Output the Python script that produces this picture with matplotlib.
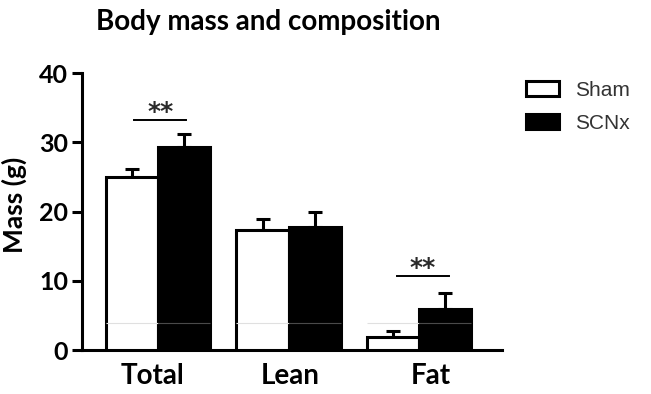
import matplotlib
matplotlib.use("Agg")
import matplotlib.pyplot as plt
import matplotlib.transforms as mtransforms
import numpy as np

categories = ["Total", "Lean", "Fat"]
sham_mean = [25.0, 17.3, 1.9]
sham_err = [1.1, 1.6, 0.85]
scnx_mean = [29.3, 17.8, 5.9]
scnx_err = [1.9, 2.1, 2.4]
yticks = [0, 10, 20, 30, 40]
# significance annotations: (category index, bar height, label)
sig_marks = [(0, 33.2, "**"), (2, 10.7, "**")]
artifact_level = 3.95

W, H = 651, 394
fig = plt.figure(figsize=(W / 100, H / 100), dpi=100)
ax = fig.add_axes([82 / W, 1 - 350 / H, (502 - 82) / W, (350 - 73.3) / H])

lw = 2.2
bar_w = 0.4
x = np.arange(len(categories))
b1 = ax.bar(x - bar_w / 2, sham_mean, bar_w, color="white", edgecolor="black",
            linewidth=lw, zorder=3, label="Sham")
b2 = ax.bar(x + bar_w / 2, scnx_mean, bar_w, color="black", edgecolor="black",
            linewidth=lw, zorder=3, label="SCNx")
ax.errorbar(x - bar_w / 2, sham_mean, yerr=[np.zeros(3), sham_err], fmt="none",
            ecolor="black", elinewidth=lw, capsize=5, capthick=lw, zorder=2)
ax.errorbar(x + bar_w / 2, scnx_mean, yerr=[np.zeros(3), scnx_err], fmt="none",
            ecolor="black", elinewidth=lw, capsize=5, capthick=lw, zorder=2)

# faint horizontal scan artifact across bars
for xi in x:
    ax.hlines(artifact_level, xi - bar_w, xi, color="#e0e0e0", lw=0.8, zorder=4)
    ax.hlines(artifact_level, xi, xi + bar_w, color="#4a4a4a", lw=0.8, zorder=4)

sig_offsets = {0: 0.015, 2: 0.032}
for ci, h, lab in sig_marks:
    c = ci + sig_offsets.get(ci, 0)
    ax.plot([c - 0.2, c + 0.2], [h, h], color="black", lw=1.4, zorder=3)
    ax.text(c, h + 0.15, lab, ha="center", va="baseline", fontsize=18,
            fontweight="bold", family="DejaVu Sans", color="#2a2a2a")

ax.set_xlim(-0.587, 2.64)
ax.set_ylim(0, 40)
ax.set_yticks(yticks)
ax.set_yticklabels([str(t) for t in yticks], fontsize=18, fontweight="bold", family="Lato")
ax.set_xticks(x)
ax.set_xticklabels(categories, fontsize=20, fontweight="bold", family="Lato")
ax.tick_params(axis="x", length=0, pad=9)
ax.tick_params(axis="y", length=7, width=lw, pad=3)
# small horizontal offsets of the category labels, as in the reference
label_shift_px = [-6, 2, 12]
for lbl, dx in zip(ax.get_xticklabels(), label_shift_px):
    lbl.set_transform(lbl.get_transform() +
                      mtransforms.ScaledTranslation(dx / 100, 0, fig.dpi_scale_trans))
for s in ["top", "right"]:
    ax.spines[s].set_visible(False)
for s in ["left", "bottom"]:
    ax.spines[s].set_linewidth(lw)
ax.set_ylabel("Mass (g)", fontsize=19, fontweight="bold", family="Lato")
ax.yaxis.set_label_coords(-(82 - 27) / (502 - 82), (350 - 205) / (350 - 73.3))

fig.text(268 / W, 1 - 22 / H, "Body mass and composition", ha="center", va="center",
         fontsize=20, fontweight="bold", family="Lato")

leg = fig.legend(handles=[b1, b2], labels=["Sham", "SCNx"], loc="upper left",
                 bbox_to_anchor=(526 / W, 1 - 81 / H), frameon=False,
                 prop={"family": "Liberation Sans", "size": 15},
                 handlelength=1.6, handleheight=0.72, handletextpad=0.75,
                 labelspacing=0.68, borderpad=0, borderaxespad=0)
for t in leg.get_texts():
    t.set_color("#333333")

fig.savefig("out.png", dpi=100)
